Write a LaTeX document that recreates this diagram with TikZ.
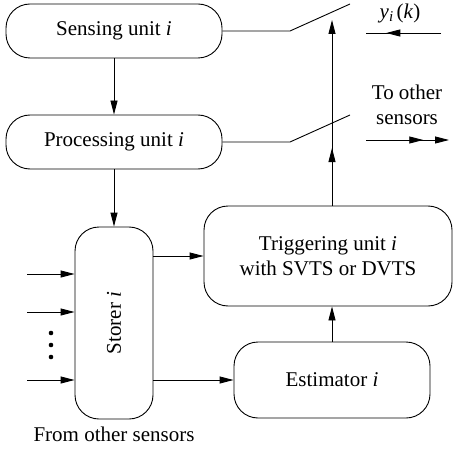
\documentclass[tikz,border=0pt]{standalone}
\usepackage{fontspec}
\setmainfont{Liberation Serif}
\usepackage{tikz}
\usetikzlibrary{positioning}
\usetikzlibrary{arrows.meta}
\usetikzlibrary{decorations.markings}
\pgfkeys{tikz/unitbox/.style={draw,rounded corners=24pt,line width=0.9pt,inner sep=0pt,align=center}}
\pgfkeys{tikz/wire/.style={line width=0.9pt}}
\pgfkeys{tikz/flow/.style={wire,-{Triangle[length=14pt,width=7pt]}}}
\pgfkeys{tikz/midtip/.style={postaction={decorate},decoration={markings,mark=at position #1 with {\arrow{Triangle[length=14pt,width=7pt]}}}}}

\begin{document}
\begin{tikzpicture}[x=1pt,y=-1pt,font=\fontsize{21}{25}\selectfont]
    \useasboundingbox (0,0) rectangle (453,454);
    \node[unitbox,minimum width=216pt,minimum height=54pt] (sense) at (114,31) {Sensing unit \textit{i}};
    \node[unitbox,minimum width=216pt,minimum height=54pt] (proc) at (114,142) {Processing unit \textit{i}};
    \node[unitbox,minimum width=78pt,minimum height=192pt,
        label={[rotate=90]center:Storer \textit{i}}] (storer) at (114,323) {};
    \node[unitbox,minimum width=248pt,minimum height=100pt] (trig) at (328,256) {Triggering unit \textit{i}\\with SVTS or DVTS};
    \node[unitbox,minimum width=196pt,minimum height=76pt] (est) at (332,380) {Estimator \textit{i}};
    \node[below=4pt of storer] (from) {From other sensors};
    \node (yik) at (400,13) {\textit{y}\raisebox{-0.35ex}{\fontsize{15}{15}\selectfont\textit{i}}\,(\textit{k})};
    \node[align=center] (toother) at (407,105) {To other\\sensors};

    \draw[flow] (sense) -- (proc);
    \draw[flow] (proc) -- (storer);
    \draw[flow] (storer.east |- trig.west) -- (trig.west);
    \draw[flow] (storer.east |- est.west) -- (est.west);
    \draw[flow] (est.north) -- (est.north |- trig.south);

    % switches
    \coordinate (sw1) at (290,31);
    \coordinate (sw1end) at (350,4);
    \coordinate (sw2) at (290,142);
    \coordinate (sw2end) at (350,115);
    \draw[wire] (sense.east) -- (sw1) -- (sw1end);
    \draw[wire] (proc.east) -- (sw2) -- (sw2end);

    \coordinate (up) at (332,20);
    \draw[flow,midtip=0.31] (est.north |- trig.north) -- (up);

    \coordinate (yin) at (441,33);
    \coordinate (yout) at (366,33);
    \draw[wire,midtip=0.73] (yin) -- (yout);
    \coordinate (outa) at (366,140);
    \coordinate (outb) at (449,140);
    \draw[flow,midtip=0.69] (outa) -- (outb);

    \foreach \y [count=\k] in {274,312,380} {
        \coordinate (in\k) at (27,\y);
        \draw[flow] (in\k) -- (in\k -| storer.west);
    }
    \foreach \y in {333,345,357}
        \fill (51,\y) circle (2.3pt);
\end{tikzpicture}
\end{document}
